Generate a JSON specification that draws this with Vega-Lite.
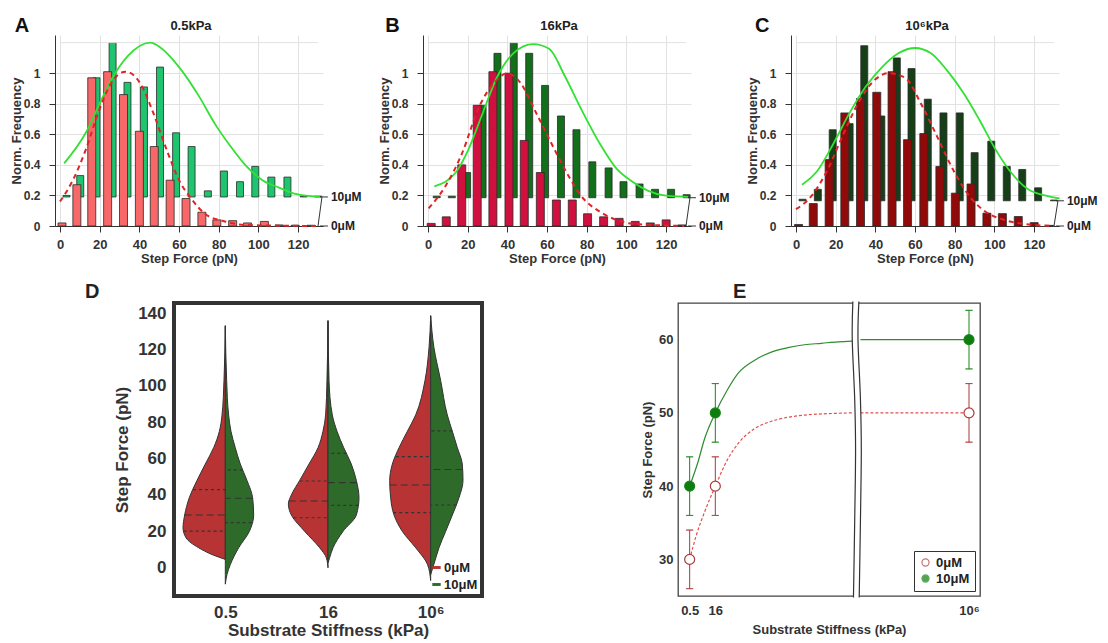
{
"$schema":"https://vega.github.io/schema/vega-lite/v6.json",
"background":"white",
"padding":{"left":10,"top":15,"right":5,"bottom":2},
"spacing":16,
"resolve":{"scale":{"color":"independent","fill":"independent","stroke":"independent"},"legend":{"color":"independent","fill":"independent","stroke":"independent"}},
"datasets":{
"aR":[{"x":1,"y":0.02},{"x":8.5,"y":0.27},{"x":16,"y":0.97},{"x":24,"y":1.01},{"x":32,"y":0.86},{"x":40,"y":0.62},{"x":47.5,"y":0.52},{"x":55.5,"y":0.3},{"x":63.5,"y":0.18},{"x":71.5,"y":0.09},{"x":79,"y":0.04},{"x":87,"y":0.035},{"x":94.5,"y":0.02},{"x":103,"y":0.03},{"x":110.5,"y":0.007},{"x":118.5,"y":0.005},{"x":126.5,"y":0.005}],
"aG":[{"x":3.3,"y":0.2},{"x":10.2,"y":0.33},{"x":18.4,"y":0.97},{"x":26.5,"y":1.2},{"x":34,"y":0.94},{"x":42.3,"y":0.91},{"x":50.4,"y":1.04},{"x":58.5,"y":0.61},{"x":66.3,"y":0.52},{"x":74.5,"y":0.23},{"x":82.6,"y":0.36},{"x":90.7,"y":0.29},{"x":98.4,"y":0.39},{"x":106.5,"y":0.32},{"x":114.6,"y":0.32},{"x":122.8,"y":0.195},{"x":130,"y":0.195}],
"aGc":[{"x":2.1,"y":0.41},{"x":13,"y":0.61},{"x":21,"y":0.83},{"x":26,"y":0.96},{"x":34,"y":1.11},{"x":45.5,"y":1.2},{"x":50.4,"y":1.17},{"x":60,"y":1.04},{"x":70,"y":0.85},{"x":78,"y":0.67},{"x":86,"y":0.52},{"x":94,"y":0.39},{"x":102,"y":0.3},{"x":110.6,"y":0.25},{"x":118.7,"y":0.21},{"x":131,"y":0.19}],
"aRc":[{"x":0,"y":0.16},{"x":6.5,"y":0.3},{"x":13,"y":0.5},{"x":19.5,"y":0.75},{"x":26,"y":0.94},{"x":33,"y":1.01},{"x":40.6,"y":0.93},{"x":47,"y":0.74},{"x":53.7,"y":0.5},{"x":60,"y":0.3},{"x":66.7,"y":0.17},{"x":73,"y":0.08},{"x":83,"y":0.03},{"x":94,"y":0.006},{"x":130,"y":0}],
"labA":[{"t":"10μM","y":0.19},{"t":"0μM","y":0}],
"bR":[{"x":1.6,"y":0.017},{"x":9.2,"y":0.06},{"x":17,"y":0.4},{"x":24.8,"y":0.79},{"x":32.7,"y":1.01},{"x":40.8,"y":1.0},{"x":48.5,"y":0.56},{"x":56.6,"y":0.35},{"x":64.7,"y":0.17},{"x":72.7,"y":0.17},{"x":80.4,"y":0.08},{"x":88.5,"y":0.06},{"x":96.3,"y":0.05},{"x":104.4,"y":0.03},{"x":112,"y":0.02},{"x":120,"y":0.04},{"x":128,"y":0.007}],
"bG":[{"x":4.4,"y":0.195},{"x":12,"y":0.195},{"x":19.7,"y":0.35},{"x":27.5,"y":0.79},{"x":35,"y":1.13},{"x":43.2,"y":1.2},{"x":51,"y":1.13},{"x":59,"y":0.92},{"x":67,"y":0.72},{"x":74.8,"y":0.63},{"x":82.8,"y":0.42},{"x":91,"y":0.38},{"x":98.5,"y":0.29},{"x":106.6,"y":0.275},{"x":114.4,"y":0.24},{"x":122.5,"y":0.24},{"x":130.3,"y":0.205}],
"bGc":[{"x":3.2,"y":0.26},{"x":14,"y":0.35},{"x":20.5,"y":0.505},{"x":27,"y":0.72},{"x":35,"y":0.98},{"x":43,"y":1.13},{"x":53,"y":1.19},{"x":61,"y":1.16},{"x":69,"y":0.98},{"x":77,"y":0.77},{"x":87,"y":0.53},{"x":95,"y":0.375},{"x":103,"y":0.29},{"x":111,"y":0.23},{"x":119,"y":0.2},{"x":131,"y":0.19}],
"bRc":[{"x":0.3,"y":0.115},{"x":9.2,"y":0.27},{"x":17.3,"y":0.48},{"x":25.4,"y":0.77},{"x":33.5,"y":0.94},{"x":40,"y":1.0},{"x":46.4,"y":0.94},{"x":54.5,"y":0.74},{"x":62.6,"y":0.53},{"x":70.7,"y":0.33},{"x":77,"y":0.2},{"x":87,"y":0.09},{"x":95,"y":0.04},{"x":103,"y":0.015},{"x":129,"y":0}],
"labB":[{"t":"10μM","y":0.185},{"t":"0μM","y":0}],
"cR":[{"x":1.3,"y":0.01},{"x":8.7,"y":0.147},{"x":16.7,"y":0.435},{"x":24.6,"y":0.74},{"x":32.5,"y":0.835},{"x":40.7,"y":0.875},{"x":48.4,"y":1.01},{"x":56.2,"y":0.565},{"x":64.4,"y":0.605},{"x":72.5,"y":0.39},{"x":80.3,"y":0.215},{"x":88.2,"y":0.275},{"x":96.2,"y":0.084},{"x":104,"y":0.081},{"x":112,"y":0.062},{"x":120,"y":0.022},{"x":127.9,"y":0.004}],
"cG":[{"x":3.3,"y":0.175},{"x":11,"y":0.24},{"x":18.5,"y":0.63},{"x":27,"y":0.67},{"x":34.4,"y":1.18},{"x":43,"y":0.72},{"x":50.8,"y":1.1},{"x":58.2,"y":1.03},{"x":66.4,"y":0.83},{"x":74.3,"y":0.74},{"x":82.5,"y":0.74},{"x":90,"y":0.48},{"x":98.4,"y":0.555},{"x":106.2,"y":0.39},{"x":114,"y":0.37},{"x":122,"y":0.25},{"x":130,"y":0.17}],
"cGc":[{"x":3,"y":0.27},{"x":10.7,"y":0.36},{"x":18.9,"y":0.54},{"x":27,"y":0.74},{"x":35,"y":0.91},{"x":43.4,"y":1.04},{"x":51.6,"y":1.13},{"x":60,"y":1.165},{"x":68,"y":1.13},{"x":76,"y":1.02},{"x":84.4,"y":0.87},{"x":92.6,"y":0.69},{"x":100.8,"y":0.495},{"x":109,"y":0.34},{"x":117,"y":0.24},{"x":125.4,"y":0.2},{"x":132.8,"y":0.18}],
"cRc":[{"x":0,"y":0.11},{"x":7.4,"y":0.19},{"x":15.6,"y":0.36},{"x":23.8,"y":0.6},{"x":32,"y":0.82},{"x":40,"y":0.96},{"x":46.7,"y":1.0},{"x":55,"y":0.97},{"x":63,"y":0.8},{"x":71.3,"y":0.58},{"x":79.5,"y":0.36},{"x":87.7,"y":0.19},{"x":95.9,"y":0.09},{"x":104,"y":0.044},{"x":114,"y":0.015},{"x":130,"y":0}],
"labC":[{"t":"10μM","y":0.165},{"t":"0μM","y":0}],
"vio":[
{"s":"0.5","c":"0μM","f":133,"x":0.5,"x0":0.5},{"s":"0.5","c":"0μM","f":103,"x":0.487,"x0":0.5},{"s":"0.5","c":"0μM","f":84,"x":0.468,"x0":0.5},{"s":"0.5","c":"0μM","f":75,"x":0.442,"x0":0.5},{"s":"0.5","c":"0μM","f":66,"x":0.386,"x0":0.5},{"s":"0.5","c":"0μM","f":57,"x":0.305,"x0":0.5},{"s":"0.5","c":"0μM","f":48,"x":0.224,"x0":0.5},{"s":"0.5","c":"0μM","f":38.5,"x":0.149,"x0":0.5},{"s":"0.5","c":"0μM","f":29,"x":0.104,"x0":0.5},{"s":"0.5","c":"0μM","f":22,"x":0.088,"x0":0.5},{"s":"0.5","c":"0μM","f":16.5,"x":0.117,"x0":0.5},{"s":"0.5","c":"0μM","f":11,"x":0.24,"x0":0.5},{"s":"0.5","c":"0μM","f":7.3,"x":0.37,"x0":0.5},{"s":"0.5","c":"0μM","f":4.6,"x":0.5,"x0":0.5},
{"s":"0.5","c":"10μM","f":133,"x":0.5,"x0":0.5},{"s":"0.5","c":"10μM","f":103,"x":0.513,"x0":0.5},{"s":"0.5","c":"10μM","f":84,"x":0.532,"x0":0.5},{"s":"0.5","c":"10μM","f":75,"x":0.555,"x0":0.5},{"s":"0.5","c":"10μM","f":66,"x":0.597,"x0":0.5},{"s":"0.5","c":"10μM","f":57,"x":0.646,"x0":0.5},{"s":"0.5","c":"10μM","f":48,"x":0.711,"x0":0.5},{"s":"0.5","c":"10μM","f":38.5,"x":0.766,"x0":0.5},{"s":"0.5","c":"10μM","f":29,"x":0.776,"x0":0.5},{"s":"0.5","c":"10μM","f":20,"x":0.734,"x0":0.5},{"s":"0.5","c":"10μM","f":11,"x":0.63,"x0":0.5},{"s":"0.5","c":"10μM","f":1.8,"x":0.549,"x0":0.5},{"s":"0.5","c":"10μM","f":-3.7,"x":0.516,"x0":0.5},{"s":"0.5","c":"10μM","f":-9,"x":0.5,"x0":0.5},
{"s":"16","c":"0μM","f":135.8,"x":1.5,"x0":1.5},{"s":"16","c":"0μM","f":103,"x":1.49,"x0":1.5},{"s":"16","c":"0μM","f":84,"x":1.477,"x0":1.5},{"s":"16","c":"0μM","f":75,"x":1.451,"x0":1.5},{"s":"16","c":"0μM","f":66,"x":1.403,"x0":1.5},{"s":"16","c":"0μM","f":57,"x":1.315,"x0":1.5},{"s":"16","c":"0μM","f":48,"x":1.224,"x0":1.5},{"s":"16","c":"0μM","f":40,"x":1.143,"x0":1.5},{"s":"16","c":"0μM","f":35,"x":1.114,"x0":1.5},{"s":"16","c":"0μM","f":29,"x":1.143,"x0":1.5},{"s":"16","c":"0μM","f":20,"x":1.273,"x0":1.5},{"s":"16","c":"0μM","f":11,"x":1.419,"x0":1.5},{"s":"16","c":"0μM","f":5.5,"x":1.484,"x0":1.5},{"s":"16","c":"0μM","f":0,"x":1.5,"x0":1.5},
{"s":"16","c":"10μM","f":135.8,"x":1.5,"x0":1.5},{"s":"16","c":"10μM","f":103,"x":1.51,"x0":1.5},{"s":"16","c":"10μM","f":84,"x":1.542,"x0":1.5},{"s":"16","c":"10μM","f":75,"x":1.588,"x0":1.5},{"s":"16","c":"10μM","f":66,"x":1.653,"x0":1.5},{"s":"16","c":"10μM","f":57,"x":1.727,"x0":1.5},{"s":"16","c":"10μM","f":48,"x":1.776,"x0":1.5},{"s":"16","c":"10μM","f":38.5,"x":1.802,"x0":1.5},{"s":"16","c":"10μM","f":29,"x":1.776,"x0":1.5},{"s":"16","c":"10μM","f":20,"x":1.646,"x0":1.5},{"s":"16","c":"10μM","f":11,"x":1.549,"x0":1.5},{"s":"16","c":"10μM","f":5.5,"x":1.516,"x0":1.5},{"s":"16","c":"10μM","f":2.7,"x":1.5,"x0":1.5},
{"s":"1e6","c":"0μM","f":138.5,"x":2.5,"x0":2.5},{"s":"1e6","c":"0μM","f":121,"x":2.484,"x0":2.5},{"s":"1e6","c":"0μM","f":103,"x":2.445,"x0":2.5},{"s":"1e6","c":"0μM","f":84,"x":2.354,"x0":2.5},{"s":"1e6","c":"0μM","f":75,"x":2.273,"x0":2.5},{"s":"1e6","c":"0μM","f":66,"x":2.192,"x0":2.5},{"s":"1e6","c":"0μM","f":57,"x":2.127,"x0":2.5},{"s":"1e6","c":"0μM","f":48,"x":2.101,"x0":2.5},{"s":"1e6","c":"0μM","f":38.5,"x":2.11,"x0":2.5},{"s":"1e6","c":"0μM","f":29,"x":2.143,"x0":2.5},{"s":"1e6","c":"0μM","f":20,"x":2.224,"x0":2.5},{"s":"1e6","c":"0μM","f":11,"x":2.354,"x0":2.5},{"s":"1e6","c":"0μM","f":2,"x":2.468,"x0":2.5},{"s":"1e6","c":"0μM","f":-7,"x":2.5,"x0":2.5},
{"s":"1e6","c":"10μM","f":138.5,"x":2.5,"x0":2.5},{"s":"1e6","c":"10μM","f":121,"x":2.532,"x0":2.5},{"s":"1e6","c":"10μM","f":103,"x":2.597,"x0":2.5},{"s":"1e6","c":"10μM","f":84,"x":2.662,"x0":2.5},{"s":"1e6","c":"10μM","f":75,"x":2.711,"x0":2.5},{"s":"1e6","c":"10μM","f":66,"x":2.76,"x0":2.5},{"s":"1e6","c":"10μM","f":57,"x":2.808,"x0":2.5},{"s":"1e6","c":"10μM","f":48,"x":2.815,"x0":2.5},{"s":"1e6","c":"10μM","f":38.5,"x":2.776,"x0":2.5},{"s":"1e6","c":"10μM","f":29,"x":2.711,"x0":2.5},{"s":"1e6","c":"10μM","f":20,"x":2.646,"x0":2.5},{"s":"1e6","c":"10μM","f":11,"x":2.581,"x0":2.5},{"s":"1e6","c":"10μM","f":2,"x":2.532,"x0":2.5},{"s":"1e6","c":"10μM","f":-3.7,"x":2.5,"x0":2.5}
],
"vqm":[{"q":29,"x":0.104,"x0":0.5},{"q":38.2,"x":0.766,"x0":0.5},{"q":36.7,"x":1.117,"x0":1.5},{"q":46.8,"x":1.779,"x0":1.5},{"q":45.5,"x":2.101,"x0":2.5},{"q":54,"x":2.808,"x0":2.5}],
"vqq":[{"q":43,"x":0.185,"x0":0.5},{"q":20.2,"x":0.094,"x0":0.5},{"q":53.8,"x":0.669,"x0":0.5},{"q":24.8,"x":0.756,"x0":0.5},{"q":47.7,"x":1.224,"x0":1.5},{"q":27.5,"x":1.165,"x0":1.5},{"q":62.9,"x":1.679,"x0":1.5},{"q":34.3,"x":1.795,"x0":1.5},{"q":61.1,"x":2.16,"x0":2.5},{"q":30.3,"x":2.136,"x0":2.5},{"q":75.2,"x":2.711,"x0":2.5},{"q":34.5,"x":2.749,"x0":2.5}],
"eP":[{"x":3.86,"c":"0μM","m":30,"lo":26,"hi":34},{"x":12.36,"c":"0μM","m":40,"lo":36,"hi":44},{"x":96.36,"c":"0μM","m":50,"lo":46,"hi":54},{"x":3.86,"c":"10μM","m":40,"lo":36,"hi":44},{"x":12.36,"c":"10μM","m":50,"lo":46,"hi":54},{"x":96.36,"c":"10μM","m":60,"lo":56,"hi":64}],
"eLg":[{"x":3.86,"y":40,"g":"a"},{"x":6.62,"y":43.3,"g":"a"},{"x":8.83,"y":46.5,"g":"a"},{"x":12.36,"y":50,"g":"a"},{"x":16.56,"y":53.3,"g":"a"},{"x":19.87,"y":55.4,"g":"a"},{"x":25.39,"y":57.2,"g":"a"},{"x":30.9,"y":58.3,"g":"a"},{"x":36.4,"y":58.9,"g":"a"},{"x":41.9,"y":59.3,"g":"a"},{"x":47.5,"y":59.5,"g":"a"},{"x":53,"y":59.7,"g":"a"},{"x":57.7,"y":59.8,"g":"a"},{"x":60.4,"y":60,"g":"b"},{"x":96.36,"y":60,"g":"b"}],
"eLr":[{"x":3.86,"y":30,"g":"a"},{"x":6.07,"y":33.3,"g":"a"},{"x":8.83,"y":36.5,"g":"a"},{"x":12.36,"y":40,"g":"a"},{"x":16.56,"y":43.75,"g":"a"},{"x":19.87,"y":45.8,"g":"a"},{"x":25.39,"y":47.85,"g":"a"},{"x":30.9,"y":48.85,"g":"a"},{"x":36.4,"y":49.4,"g":"a"},{"x":41.9,"y":49.7,"g":"a"},{"x":47.5,"y":49.85,"g":"a"},{"x":57.7,"y":50,"g":"a"},{"x":60.4,"y":50,"g":"b"},{"x":96.36,"y":50,"g":"b"}],
"brk":[{"y":65.2,"xl":57.9,"xr":59.9},{"y":60,"xl":57.7,"xr":59.6},{"y":52,"xl":58.5,"xr":60.4},{"y":45,"xl":58.8,"xr":60.7},{"y":35,"xl":58.5,"xr":60.4},{"y":24.8,"xl":58.1,"xr":60.0}],
"one":[{"k":1}]
},
"vconcat":[
{"hconcat":[
{"width":268,"height":191,
"layer":[
{"data":{"name":"aG"},"mark":{"type":"bar","width":7,"fill":"#1ec46e","stroke":"#2b2b2b","strokeWidth":0.8},
"encoding":{"x":{"field":"x","type":"quantitative","scale":{"domain":[0,130],"nice":false,"zero":false},"axis":{"values":[0,20,40,60,80,100,120],"tickCount":8,"title":"Step Force (pN)","titleFontSize":13,"labelFontSize":13,"grid":true,"gridColor":"#e2e2e2","tickSize":6,"labelPadding":6,"titlePadding":1,"labelOverlap":false}},
"y":{"field":"y","type":"quantitative","scale":{"domain":[0,1.25],"nice":false},"axis":{"values":[0,0.2,0.4,0.6,0.8,1],"tickCount":7,"format":".1~f","labelOverlap":false,"title":"Norm. Frequency","titleFontSize":13,"labelFontSize":12,"grid":true,"gridColor":"#e2e2e2","tickSize":6,"labelPadding":9,"titlePadding":0}},
"y2":{"datum":0.19}}},
{"data":{"name":"one"},"mark":{"type":"rule","color":"#e2e2e2","strokeWidth":1},"encoding":{"x":{"datum":0},"x2":{"datum":130},"y":{"datum":1.2}}},
{"data":{"name":"aR"},"mark":{"type":"bar","width":8,"fill":"#f86868","stroke":"#2b2b2b","strokeWidth":0.8},"encoding":{"x":{"field":"x","type":"quantitative"},"y":{"field":"y","type":"quantitative"}}},
{"data":{"name":"aGc"},"mark":{"type":"line","color":"#33e033","strokeWidth":1.8,"interpolate":"monotone"},"encoding":{"x":{"field":"x","type":"quantitative"},"y":{"field":"y","type":"quantitative"}}},
{"data":{"name":"aRc"},"mark":{"type":"line","color":"#e02424","strokeWidth":2,"strokeDash":[5,4],"interpolate":"monotone"},"encoding":{"x":{"field":"x","type":"quantitative"},"y":{"field":"y","type":"quantitative"}}},
{"data":{"name":"labA"},"mark":{"type":"rule","color":"#333","strokeWidth":1},"encoding":{"x":{"datum":131},"x2":{"datum":135},"y":{"field":"y","type":"quantitative"}}},
{"data":{"name":"labA"},"mark":{"type":"text","align":"left","baseline":"middle","fontWeight":"bold","fontSize":12,"color":"#222","dx":3},"encoding":{"x":{"datum":135},"y":{"field":"y","type":"quantitative"},"text":{"field":"t"}}},
{"data":{"name":"one"},"mark":{"type":"rule","color":"#333","strokeWidth":1},"encoding":{"x":{"datum":130},"x2":{"datum":132},"y":{"datum":0},"y2":{"datum":0.19}}},
{"data":{"values":[{"t":"A"}]},"mark":{"type":"text","fontSize":20,"fontWeight":"bold","color":"#111","baseline":"middle"},"encoding":{"x":{"datum":-19.2},"y":{"datum":1.31},"text":{"field":"t"}}},
{"data":{"values":[{"t":"0.5kPa"}]},"mark":{"type":"text","fontSize":13,"fontWeight":"bold","color":"#222","baseline":"middle"},"encoding":{"x":{"datum":66},"y":{"datum":1.31},"text":{"field":"t"}}}
]},
{"width":268,"height":191,
"layer":[
{"data":{"name":"bG"},"mark":{"type":"bar","width":7,"fill":"#12701a","stroke":"#2b2b2b","strokeWidth":0.8},
"encoding":{"x":{"field":"x","type":"quantitative","scale":{"domain":[0,130],"nice":false,"zero":false},"axis":{"values":[0,20,40,60,80,100,120],"tickCount":8,"title":"Step Force (pN)","titleFontSize":13,"labelFontSize":13,"grid":true,"gridColor":"#e2e2e2","tickSize":6,"labelPadding":6,"titlePadding":1,"labelOverlap":false}},
"y":{"field":"y","type":"quantitative","scale":{"domain":[0,1.25],"nice":false},"axis":{"values":[0,0.2,0.4,0.6,0.8,1],"tickCount":7,"format":".1~f","labelOverlap":false,"title":"Norm. Frequency","titleFontSize":13,"labelFontSize":12,"grid":true,"gridColor":"#e2e2e2","tickSize":6,"labelPadding":9,"titlePadding":0}},
"y2":{"datum":0.185}}},
{"data":{"name":"one"},"mark":{"type":"rule","color":"#e2e2e2","strokeWidth":1},"encoding":{"x":{"datum":0},"x2":{"datum":130},"y":{"datum":1.2}}},
{"data":{"name":"bR"},"mark":{"type":"bar","width":8,"fill":"#d0103e","stroke":"#2b2b2b","strokeWidth":0.8},"encoding":{"x":{"field":"x","type":"quantitative"},"y":{"field":"y","type":"quantitative"}}},
{"data":{"name":"bGc"},"mark":{"type":"line","color":"#33e033","strokeWidth":1.8,"interpolate":"monotone"},"encoding":{"x":{"field":"x","type":"quantitative"},"y":{"field":"y","type":"quantitative"}}},
{"data":{"name":"bRc"},"mark":{"type":"line","color":"#e02424","strokeWidth":2,"strokeDash":[5,4],"interpolate":"monotone"},"encoding":{"x":{"field":"x","type":"quantitative"},"y":{"field":"y","type":"quantitative"}}},
{"data":{"name":"labB"},"mark":{"type":"rule","color":"#333","strokeWidth":1},"encoding":{"x":{"datum":131},"x2":{"datum":135},"y":{"field":"y","type":"quantitative"}}},
{"data":{"name":"labB"},"mark":{"type":"text","align":"left","baseline":"middle","fontWeight":"bold","fontSize":12,"color":"#222","dx":3},"encoding":{"x":{"datum":135},"y":{"field":"y","type":"quantitative"},"text":{"field":"t"}}},
{"data":{"name":"one"},"mark":{"type":"rule","color":"#333","strokeWidth":1},"encoding":{"x":{"datum":130},"x2":{"datum":132},"y":{"datum":0},"y2":{"datum":0.185}}},
{"data":{"values":[{"t":"B"}]},"mark":{"type":"text","fontSize":20,"fontWeight":"bold","color":"#111","baseline":"middle"},"encoding":{"x":{"datum":-17.9},"y":{"datum":1.31},"text":{"field":"t"}}},
{"data":{"values":[{"t":"16kPa"}]},"mark":{"type":"text","fontSize":13,"fontWeight":"bold","color":"#222","baseline":"middle"},"encoding":{"x":{"datum":66},"y":{"datum":1.31},"text":{"field":"t"}}}
]},
{"width":268,"height":191,
"layer":[
{"data":{"name":"cG"},"mark":{"type":"bar","width":7,"fill":"#163f18","stroke":"#2b2b2b","strokeWidth":0.8},
"encoding":{"x":{"field":"x","type":"quantitative","scale":{"domain":[0,130],"nice":false,"zero":false},"axis":{"values":[0,20,40,60,80,100,120],"tickCount":8,"title":"Step Force (pN)","titleFontSize":13,"labelFontSize":13,"grid":true,"gridColor":"#e2e2e2","tickSize":6,"labelPadding":6,"titlePadding":1,"labelOverlap":false}},
"y":{"field":"y","type":"quantitative","scale":{"domain":[0,1.25],"nice":false},"axis":{"values":[0,0.2,0.4,0.6,0.8,1],"tickCount":7,"format":".1~f","labelOverlap":false,"title":"Norm. Frequency","titleFontSize":13,"labelFontSize":12,"grid":true,"gridColor":"#e2e2e2","tickSize":6,"labelPadding":9,"titlePadding":0}},
"y2":{"datum":0.165}}},
{"data":{"name":"one"},"mark":{"type":"rule","color":"#e2e2e2","strokeWidth":1},"encoding":{"x":{"datum":0},"x2":{"datum":130},"y":{"datum":1.2}}},
{"data":{"name":"cR"},"mark":{"type":"bar","width":8,"fill":"#900a0a","stroke":"#2b2b2b","strokeWidth":0.8},"encoding":{"x":{"field":"x","type":"quantitative"},"y":{"field":"y","type":"quantitative"}}},
{"data":{"name":"cGc"},"mark":{"type":"line","color":"#33e033","strokeWidth":1.8,"interpolate":"monotone"},"encoding":{"x":{"field":"x","type":"quantitative"},"y":{"field":"y","type":"quantitative"}}},
{"data":{"name":"cRc"},"mark":{"type":"line","color":"#e02424","strokeWidth":2,"strokeDash":[5,4],"interpolate":"monotone"},"encoding":{"x":{"field":"x","type":"quantitative"},"y":{"field":"y","type":"quantitative"}}},
{"data":{"name":"labC"},"mark":{"type":"rule","color":"#333","strokeWidth":1},"encoding":{"x":{"datum":131},"x2":{"datum":135},"y":{"field":"y","type":"quantitative"}}},
{"data":{"name":"labC"},"mark":{"type":"text","align":"left","baseline":"middle","fontWeight":"bold","fontSize":12,"color":"#222","dx":3},"encoding":{"x":{"datum":135},"y":{"field":"y","type":"quantitative"},"text":{"field":"t"}}},
{"data":{"name":"one"},"mark":{"type":"rule","color":"#333","strokeWidth":1},"encoding":{"x":{"datum":130},"x2":{"datum":132},"y":{"datum":0},"y2":{"datum":0.165}}},
{"data":{"values":[{"t":"C"}]},"mark":{"type":"text","fontSize":20,"fontWeight":"bold","color":"#111","baseline":"middle"},"encoding":{"x":{"datum":-17},"y":{"datum":1.31},"text":{"field":"t"}}},
{"data":{"values":[{"t":"10⁶kPa"}]},"mark":{"type":"text","fontSize":13,"fontWeight":"bold","color":"#222","baseline":"middle"},"encoding":{"x":{"datum":66},"y":{"datum":1.31},"text":{"field":"t"}}}
]}
],"spacing":100,"bounds":"flush"},
{"hconcat":[
{"width":427,"height":293,"title":{"text":"D","anchor":"start","frame":"group","fontSize":20,"dx":30,"offset":-2},
"layer":[
{"data":{"name":"vio"},"mark":{"type":"area","orient":"horizontal","interpolate":"monotone","stroke":"#333","strokeWidth":1},
"encoding":{"y":{"field":"f","type":"quantitative","scale":{"domain":[-15.5,145.5],"nice":false,"zero":false},"axis":{"values":[0,20,40,60,80,100,120,140],"tickCount":9,"offset":-119,"title":"Step Force (pN)","titleFontSize":17,"labelFontSize":17,"grid":false,"domain":false,"ticks":false,"labelPadding":8,"titlePadding":6}},
"x":{"field":"x","type":"quantitative","scale":{"domain":[-1.159,3],"nice":false,"zero":false},"axis":{"values":[0.5,1.5,2.5],"labelExpr":"datum.value==0.5?'0.5':datum.value==1.5?'16':'10⁶'","title":"Substrate Stiffness (kPa)","titleX":273,"titleFontSize":17,"labelFontSize":17,"grid":false,"domain":false,"ticks":false,"labelPadding":8,"titlePadding":2}},
"x2":{"field":"x0"},
"color":{"field":"c","type":"nominal","scale":{"domain":["0μM","10μM"],"range":["#b83434","#2e6b2a"]},"legend":{"orient":"bottom-right","title":null,"labelFontSize":13,"labelFontWeight":"bold","symbolType":"M-1,-0.35H1V0.35H-1Z","symbolSize":70,"symbolStrokeWidth":0,"offset":4,"rowPadding":3,"labelOffset":1}},
"detail":{"field":"s"}}},
{"data":{"name":"vqm"},"mark":{"type":"rule","color":"#333","strokeWidth":1.2,"strokeDash":[7,4]},"encoding":{"y":{"field":"q","type":"quantitative"},"x":{"field":"x","type":"quantitative"},"x2":{"field":"x0"}}},
{"data":{"name":"vqq"},"mark":{"type":"rule","color":"#333","strokeWidth":1.2,"strokeDash":[3,3]},"encoding":{"y":{"field":"q","type":"quantitative"},"x":{"field":"x","type":"quantitative"},"x2":{"field":"x0"}}},
{"data":{"name":"one"},"mark":{"type":"rule","color":"#333","strokeWidth":4,"strokeCap":"square"},"encoding":{"x":{"datum":0},"y":{"datum":-15.5},"y2":{"datum":145.5}}},
{"data":{"name":"one"},"mark":{"type":"rule","color":"#333","strokeWidth":4,"strokeCap":"square"},"encoding":{"x":{"datum":3},"y":{"datum":-15.5},"y2":{"datum":145.5}}},
{"data":{"name":"one"},"mark":{"type":"rule","color":"#333","strokeWidth":4,"strokeCap":"square"},"encoding":{"x":{"datum":0},"x2":{"datum":3},"y":{"datum":145.5}}},
{"data":{"name":"one"},"mark":{"type":"rule","color":"#333","strokeWidth":4,"strokeCap":"square"},"encoding":{"x":{"datum":0},"x2":{"datum":3},"y":{"datum":-15.5}}}
]},
{"width":302,"height":293,"view":{"stroke":"#444","strokeWidth":1.3},"title":{"text":"E","anchor":"start","frame":"group","fontSize":20,"dx":55,"offset":-3},
"layer":[
{"data":{"name":"eLg"},"mark":{"type":"line","color":"#2e8b2e","strokeWidth":1.2,"interpolate":"monotone"},
"encoding":{"x":{"field":"x","type":"quantitative","scale":{"domain":[0,100],"nice":false,"zero":false},"axis":{"values":[3.86,12.36,96.36],"labelExpr":"datum.value<5?'0.5':datum.value<20?'16':'10⁶'","labelOverlap":false,"title":"Substrate Stiffness (kPa)","titleFontSize":13,"labelFontSize":13,"grid":false,"domain":false,"ticks":false,"labelPadding":8,"titlePadding":6}},
"y":{"field":"y","type":"quantitative","scale":{"domain":[25,65],"nice":false,"zero":false},"axis":{"values":[30,40,50,60],"title":"Step Force (pN)","titleFontSize":13,"labelFontSize":13,"grid":false,"domain":false,"ticks":false,"labelPadding":5,"titlePadding":4}},
"detail":{"field":"g"}}},
{"data":{"name":"eLr"},"mark":{"type":"line","color":"#e05050","strokeWidth":1.2,"strokeDash":[3,2],"interpolate":"monotone"},"encoding":{"x":{"field":"x","type":"quantitative"},"y":{"field":"y","type":"quantitative"},"detail":{"field":"g"}}},
{"data":{"name":"eP"},"mark":{"type":"rule","strokeWidth":1},"encoding":{"x":{"field":"x","type":"quantitative"},"y":{"field":"lo","type":"quantitative","title":"Step Force (pN)"},"y2":{"field":"hi"},"stroke":{"field":"c","type":"nominal","scale":{"domain":["0μM","10μM"],"range":["#a83a3a","#1a851a"]},"legend":{"orient":"bottom-right","title":null,"labelFontSize":13,"labelFontWeight":"bold","strokeColor":"#333","padding":5,"fillColor":"white","offset":5,"symbolType":"circle","symbolSize":50,"symbolStrokeWidth":1.2,"symbolOpacity":1,"rowPadding":2}}}},
{"data":{"name":"eP"},"mark":{"type":"tick","orient":"horizontal","size":7,"thickness":0.1,"filled":false,"strokeWidth":1},"encoding":{"x":{"field":"x","type":"quantitative"},"y":{"field":"lo","type":"quantitative","title":"Step Force (pN)"},"stroke":{"field":"c","type":"nominal"}}},
{"data":{"name":"eP"},"mark":{"type":"tick","orient":"horizontal","size":7,"thickness":0.1,"filled":false,"strokeWidth":1},"encoding":{"x":{"field":"x","type":"quantitative"},"y":{"field":"hi","type":"quantitative","title":"Step Force (pN)"},"stroke":{"field":"c","type":"nominal"}}},
{"data":{"name":"eP"},"mark":{"type":"point","shape":"circle","size":100,"filled":true,"strokeWidth":1.2,"opacity":1},"encoding":{"x":{"field":"x","type":"quantitative"},"y":{"field":"m","type":"quantitative","title":"Step Force (pN)"},
"stroke":{"field":"c","type":"nominal"},
"fill":{"field":"c","type":"nominal","scale":{"domain":["0μM","10μM"],"range":["white","#0d7d0d"]},"legend":{"orient":"bottom-right","title":null,"labelFontSize":13,"labelFontWeight":"bold","strokeColor":"#333","padding":5,"fillColor":"white","offset":5,"symbolType":"circle","symbolSize":50,"symbolStrokeWidth":1.2,"symbolOpacity":1,"rowPadding":2}}}},
{"data":{"name":"brk"},"mark":{"type":"area","orient":"horizontal","interpolate":"monotone","fill":"white"},"encoding":{"y":{"field":"y","type":"quantitative"},"x":{"field":"xl","type":"quantitative"},"x2":{"field":"xr"}}},
{"data":{"name":"brk"},"mark":{"type":"line","color":"#333","strokeWidth":1.2,"interpolate":"cardinal"},"encoding":{"y":{"field":"y","type":"quantitative"},"x":{"field":"xl","type":"quantitative"},"order":{"field":"y","type":"quantitative"}}},
{"data":{"name":"brk"},"mark":{"type":"line","color":"#333","strokeWidth":1.2,"interpolate":"cardinal"},"encoding":{"y":{"field":"y","type":"quantitative"},"x":{"field":"xr","type":"quantitative"},"order":{"field":"y","type":"quantitative"}}}
]}
],"spacing":196,"bounds":"flush","resolve":{"scale":{"color":"independent","fill":"independent","stroke":"independent"},"legend":{"color":"independent","fill":"independent","stroke":"independent"}}}
],
"config":{
"font":"Arial",
"view":{"stroke":null},
"axis":{"labelFont":"Arial","titleFont":"Arial","labelFontWeight":"bold","titleFontWeight":"bold","labelColor":"#333","titleColor":"#333","domainColor":"#333","tickColor":"#333"},
"legend":{"labelFont":"Arial","labelColor":"#222"},
"title":{"font":"Arial","fontWeight":"bold","color":"#222"}
}
}
